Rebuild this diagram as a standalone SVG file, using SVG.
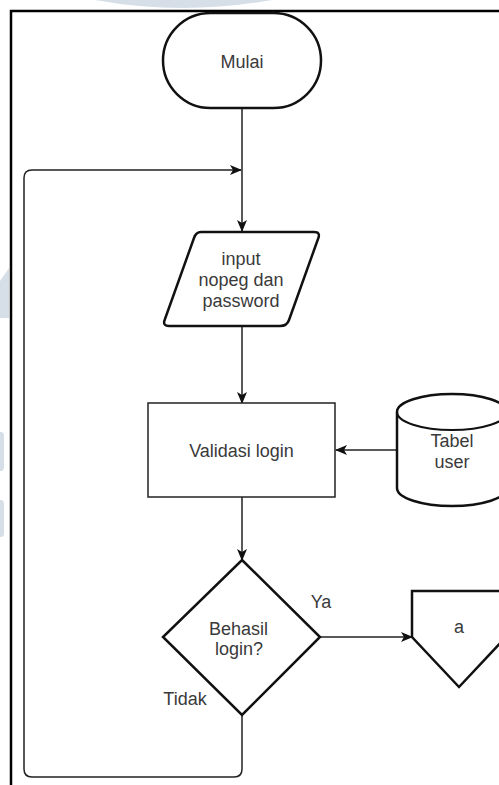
<svg xmlns="http://www.w3.org/2000/svg" width="499" height="785" viewBox="0 0 499 785">
<style>
.t{font-family:"Liberation Sans",Arial,sans-serif;font-size:18px;fill:#3a3a3a;text-anchor:middle}
.thick{fill:#fff;stroke:#111;stroke-width:2.5}
.thin{fill:#fff;stroke:#222;stroke-width:1.5}
.c{fill:none;stroke:#222;stroke-width:1.5}
.wm{fill:#d6dee7}
</style>
<defs>
<marker id="ah" viewBox="0 0 12 10" refX="11" refY="5" markerWidth="12" markerHeight="10" markerUnits="userSpaceOnUse" orient="auto">
<path d="M0,0 L12,5 L0,10 L3,5 Z" fill="#111"/>
</marker>
</defs>
<rect width="499" height="785" fill="#fff"/>
<g id="watermark">
<path class="wm" d="M95,0 Q183,16 272,0 Z"/>
<path class="wm" d="M0,281 L9,268 L9,318 L0,318 Z"/>
<path class="wm" d="M0,432 H1 Q4,432 4,436 V467 Q4,471 1,471 H0 Z"/>
<path class="wm" d="M0,500 H1 Q4,500 4,504 V533 Q4,537 1,537 H0 Z"/>
</g>
<g id="frame">
<path d="M11,785 V11 H499" fill="none" stroke="#000" stroke-width="2.5"/>
</g>
<g id="connectors">
<path class="c" d="M242,108 V231" marker-end="url(#ah)"/>
<path class="c" d="M242,715 V769 Q242,777 234,777 H32 Q24,777 24,769 V178 Q24,170 32,170 H241" marker-end="url(#ah)"/>
<path class="c" d="M242,327 V403" marker-end="url(#ah)"/>
<path class="c" d="M397,450 H336" marker-end="url(#ah)"/>
<path class="c" d="M242,497 V560" marker-end="url(#ah)"/>
<path class="c" d="M320,637 H412" marker-end="url(#ah)"/>
<text class="t" x="321" y="608">Ya</text>
<text class="t" x="185" y="705">Tidak</text>
</g>
<g id="mulai">
<rect class="thick" x="163" y="13" width="158" height="95" rx="47.5" ry="47.5"/>
<text class="t" x="242" y="68">Mulai</text>
</g>
<g id="input">
<path class="thick" d="M201,232 H314 Q321,232 318,239 L289,320 Q287,326 280,326 H169 Q162,326 165,319 L194,238 Q196,232 201,232 Z"/>
<text class="t" x="241" y="264.5">input</text>
<text class="t" x="241" y="286">nopeg dan</text>
<text class="t" x="241" y="307">password</text>
</g>
<g id="validasi">
<rect class="thin" x="148" y="403" width="187" height="94"/>
<text class="t" x="241.5" y="457">Validasi login</text>
</g>
<g id="tabel">
<path class="thick" d="M397,412 A55,18 0 0,1 507,412 V488 A55,18 0 0,1 397,488 Z" stroke-width="2.2"/>
<path d="M397,412 A55,18 0 0,0 507,412" fill="none" stroke="#111" stroke-width="2.2"/>
<text class="t" x="452" y="447">Tabel</text>
<text class="t" x="452" y="468">user</text>
</g>
<g id="decision">
<path class="thick" d="M242,560 L320,637 L242,715 L163,637 Z"/>
<text class="t" x="238.5" y="635">Behasil</text>
<text class="t" x="239" y="655">login?</text>
</g>
<g id="offpage">
<path class="thick" d="M412,591 H506 V637 L459,687 L412,637 Z"/>
<text class="t" x="459" y="633">a</text>
</g>
</svg>
